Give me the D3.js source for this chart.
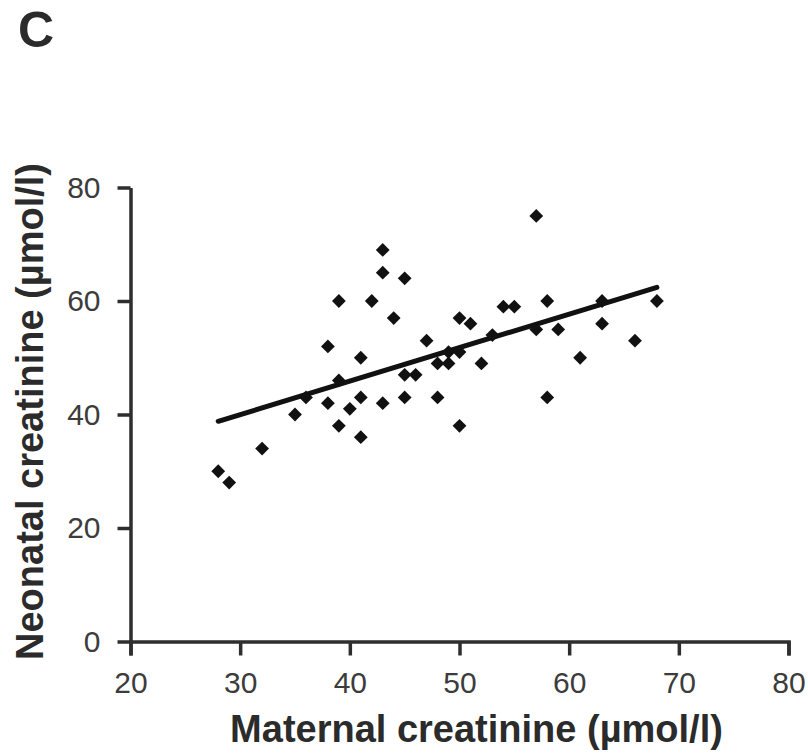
<!DOCTYPE html>
<html>
<head>
<meta charset="utf-8">
<script src="https://cdn.jsdelivr.net/npm/d3@7"></script>
<style>
  body { margin: 0; background: #fff; }
  .chart { width: 808px; height: 756px; }
  .axis path, .axis line { stroke: #2e2e2e; stroke-width: 3.5px; }
  .axis text { font-family: "Liberation Sans", Arial, sans-serif; font-size: 30px; fill: #3c3c3c; }
  .axis-label { font-family: "Liberation Sans", Arial, sans-serif; font-weight: bold; font-size: 38px; fill: #2b2b2b; }
</style>
</head>
<body>
<div class="chart"></div>
<script>
/* DATA */
var maternal = [28, 29, 32, 35, 36, 38, 38, 39, 39, 39, 40, 41, 41, 41, 42, 43, 43, 43, 44, 45, 45, 45, 46,
    47, 48, 48, 49, 49, 50, 50, 50, 51, 52, 53, 54, 55, 57, 57, 58, 58, 59, 61, 63, 63, 66, 68];
var neonatal = [30, 28, 34, 40, 43, 52, 42, 60, 46, 38, 41, 50, 43, 36, 60, 69, 65, 42, 57, 64, 47, 43, 47,
    53, 49, 43, 49, 51, 57, 51, 38, 56, 49, 54, 59, 59, 75, 55, 60, 43, 55, 50, 60, 56, 53, 60];

// regression line end points as drawn
var fitX = [28, 68];
var fitY = [38.8, 62.4];

var xTicks = [20, 30, 40, 50, 60, 70, 80];
var yTicks = [0, 20, 40, 60, 80];

var panelLabel = "C";
var xTitle = "Maternal creatinine (\u00b5mol/l)";
var yTitle = "Neonatal creatinine (\u00b5mol/l)";

/* SET UP */
var target = document.querySelector(".chart");
var margin = { top: 187.5, right: 19.5, bottom: 114.5, left: 130.5 };
var width = 808 - margin.left - margin.right;
var height = 756 - margin.top - margin.bottom;

var xScale = d3.scaleLinear().domain([20, 80]).range([0, width]);
var yScale = d3.scaleLinear().domain([0, 80]).range([height, 0]);

var svg = d3.select(target).append("svg")
    .attr("width", 808)
    .attr("height", 756);

svg.append("text")
    .attr("class", "axis-label")
    .attr("x", 18)
    .attr("y", 47)
    .style("font-size", "50px")
    .text(panelLabel);

var g = svg.append("g")
    .attr("transform", "translate(" + margin.left + "," + margin.top + ")");

// x axis
g.append("g")
    .attr("class", "x axis")
    .attr("transform", "translate(0," + height + ")")
    .call(d3.axisBottom(xScale).tickValues(xTicks).tickSizeInner(14).tickSizeOuter(14).tickPadding(16));

// y axis
g.append("g")
    .attr("class", "y axis")
    .call(d3.axisLeft(yScale).tickValues(yTicks).tickSizeInner(13).tickSizeOuter(0).tickPadding(17));

// axis titles
g.append("text")
    .attr("class", "axis-label")
    .attr("x", width / 2 + 17)
    .attr("y", height + 100)
    .attr("text-anchor", "middle")
    .text(xTitle);

g.append("text")
    .attr("class", "axis-label")
    .attr("transform", "rotate(-90)")
    .attr("x", -height / 2 + 3)
    .attr("y", -88)
    .attr("text-anchor", "middle")
    .text(yTitle);

// fit line
g.append("line")
    .attr("x1", xScale(fitX[0]))
    .attr("y1", yScale(fitY[0]))
    .attr("x2", xScale(fitX[1]))
    .attr("y2", yScale(fitY[1]))
    .attr("stroke", "#111")
    .attr("stroke-width", 5)
    .attr("stroke-linecap", "round");

// points
var diamond = d3.symbol().type(d3.symbolSquare).size(95);

g.selectAll(".dot")
    .data(maternal)
    .enter().append("path")
    .attr("class", "dot")
    .attr("d", diamond)
    .attr("fill", "#111")
    .attr("transform", function(d, i) {
        return "translate(" + xScale(d) + "," + yScale(neonatal[i]) + ") rotate(45)";
    });
</script>
</body>
</html>
